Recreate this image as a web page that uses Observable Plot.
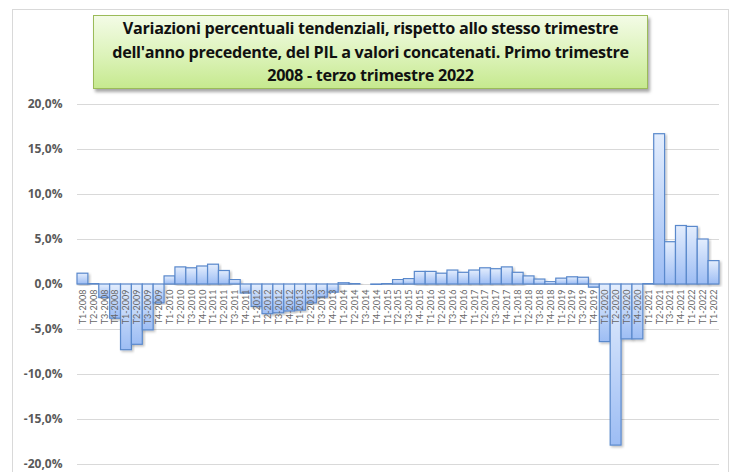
<!DOCTYPE html>
<html>
<head>
<meta charset="utf-8">
<script src="https://cdn.jsdelivr.net/npm/d3@7"></script>
<script src="https://cdn.jsdelivr.net/npm/@observablehq/plot@0.6"></script>
<style>
  html, body { margin: 0; padding: 0; background: #fff; }
  #wrap { position: relative; width: 733px; height: 472px; overflow: hidden; }
  #frame { position: absolute; left: 12px; top: 9px; width: 717px; height: 470px; border: 1px solid #d9d9d9; box-sizing: border-box; }
  #title {
    position: absolute; left: 93px; top: 15px; width: 555px; height: 74px;
    box-sizing: border-box; border: 1px solid #9bbb59;
    background: linear-gradient(to bottom, #f3fbe6 0%, #dcf3b9 55%, #c6e98f 100%);
    box-shadow: 2px 3px 3px rgba(0,0,0,0.35);
    font-family: "Open Sans", Lato, sans-serif; font-weight: 700; font-size: 16.2px;
    line-height: 23.5px; text-align: center; color: #111; padding-top: 1px;
    letter-spacing: -0.3px; white-space: nowrap;
  }
  #chart { position: absolute; left: 0; top: 0; }
</style>
</head>
<body>
<div id="wrap">
  <div id="frame"></div>
  <div id="chart"></div>
  <div id="title">Variazioni percentuali tendenziali, rispetto allo stesso trimestre<br>dell'anno precedente, del PIL a valori concatenati. Primo trimestre<br>2008 - terzo trimestre 2022</div>
</div>
<script>
const labels = [
  "T1-2008","T2-2008","T3-2008","T4-2008",
  "T1-2009","T2-2009","T3-2009","T4-2009",
  "T1-2010","T2-2010","T3-2010","T4-2010",
  "T1-2011","T2-2011","T3-2011","T4-2011",
  "T1-2012","T2-2012","T3-2012","T4-2012",
  "T1-2013","T2-2013","T3-2013","T4-2013",
  "T1-2014","T2-2014","T3-2014","T4-2014",
  "T1-2015","T2-2015","T3-2015","T4-2015",
  "T1-2016","T2-2016","T3-2016","T4-2016",
  "T1-2017","T2-2017","T3-2017","T4-2017",
  "T1-2018","T2-2018","T3-2018","T4-2018",
  "T1-2019","T2-2019","T3-2019","T4-2019",
  "T1-2020","T2-2020","T3-2020","T4-2020",
  "T1-2021","T2-2021","T3-2021","T4-2021",
  "T1-2022","T1-2022","T1-2022"
];
const values = [
  1.2, 0.05, -1.5, -3.8,
  -7.3, -6.7, -5.1, -2.1,
  0.9, 1.9, 1.8, 2.0,
  2.2, 1.5, 0.5, -1.0,
  -2.5, -3.3, -3.2, -3.0,
  -2.9, -2.1, -1.45, -0.9,
  0.2, 0.1, 0.0, -0.1,
  0.1, 0.5, 0.6, 1.4,
  1.4, 1.2, 1.55, 1.3,
  1.55, 1.8, 1.7, 1.9,
  1.3, 0.9, 0.55, 0.3,
  0.65, 0.8, 0.75, -0.35,
  -6.4, -17.9, -6.1, -6.1,
  0.1, 16.7, 4.7, 6.5,
  6.4, 5.0, 2.6
];
const yTicks = [-20, -15, -10, -5, 0, 5, 10, 15, 20];

const data = values.map((v, i) => ({i, v, label: labels[i]}));
const fmt = d => d.toFixed(1).replace(".", ",") + "%";

const defs = () => {
  const g = d3.create("svg:defs");
  const lg = g.append("linearGradient").attr("id", "barGrad")
    .attr("x1", 0).attr("y1", 0).attr("x2", 0).attr("y2", 1);
  lg.append("stop").attr("offset", "0%").attr("stop-color", "#e3edfd");
  lg.append("stop").attr("offset", "100%").attr("stop-color", "#9dbdf4");
  const f = g.append("filter").attr("id", "shadow").attr("x", "-20%").attr("y", "-5%").attr("width", "150%").attr("height", "115%");
  f.append("feDropShadow").attr("dx", 1.5).attr("dy", 1.5).attr("stdDeviation", 1)
    .attr("flood-color", "#000").attr("flood-opacity", 0.25);
  return g.node();
};

const chart = Plot.plot({
  width: 733,
  height: 472,
  marginLeft: 77,
  marginRight: 14,
  marginTop: 104,
  marginBottom: 8,
  style: {background: "transparent", overflow: "visible"},
  x: {type: "band", domain: d3.range(values.length), paddingInner: 0, paddingOuter: 0, axis: null},
  y: {domain: [-20, 20], axis: null, label: null},
  marks: [
    defs,
    Plot.gridY(yTicks, {stroke: "#d9d9d9", strokeOpacity: 1, strokeWidth: 1}),
    Plot.barY(data, {x: "i", y: "v", fill: "url(#barGrad)", stroke: "#5a89cc", strokeWidth: 1.2, inset: 0}),
    Plot.axisY(yTicks, {label: null, tickSize: 0, tickPadding: 15, tickFormat: fmt, fontSize: 12, fontWeight: "bold", fill: "#595959", fontFamily: "Open Sans, Lato, sans-serif"}),
    Plot.text(data, {x: "i", y: 0, text: "label", rotate: -90, textAnchor: "end", dy: 5, fontSize: 9, fill: "#666666", fontFamily: "Lato, sans-serif"})
  ]
});
chart.querySelectorAll("g[aria-label='bar'] rect").forEach(r => r.setAttribute("filter", "url(#shadow)"));
document.getElementById("chart").appendChild(chart);
</script>
</body>
</html>
